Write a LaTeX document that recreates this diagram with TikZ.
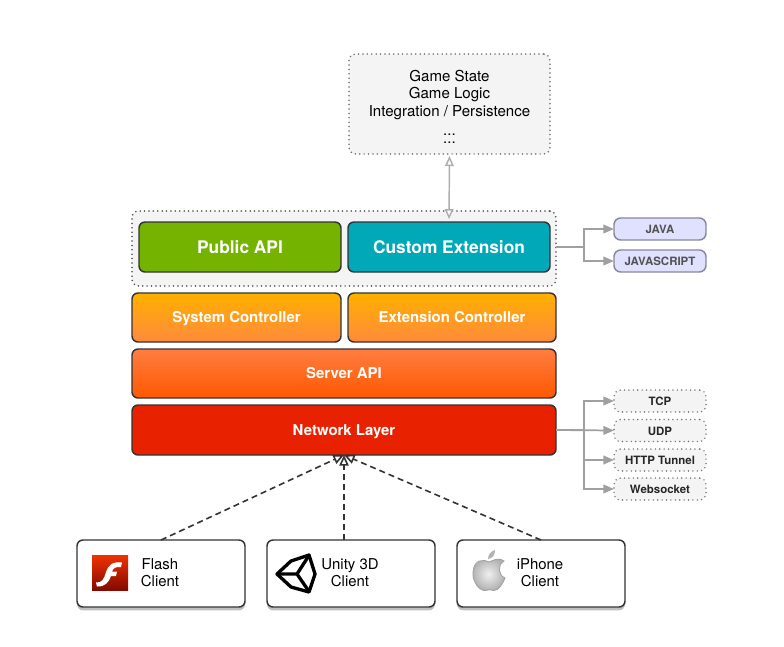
\documentclass[tikz,border=0pt]{standalone}
\usepackage{fontspec}
\setmainfont{TeX Gyre Heros}
\usetikzlibrary{arrows.meta,shadows,positioning}
\definecolor{edgedark}{HTML}{333333}
\definecolor{linkgray}{HTML}{A0A0A0}
\definecolor{panelgray}{HTML}{F4F4F4}
\definecolor{apigreen}{RGB}{116,179,0}
\definecolor{exteal}{RGB}{0,168,184}
\definecolor{ctrltop}{RGB}{255,176,0}
\definecolor{ctrlbot}{RGB}{255,138,60}
\definecolor{srvtop}{RGB}{255,125,65}
\definecolor{srvbot}{RGB}{255,88,0}
\definecolor{netred}{RGB}{232,34,0}
\definecolor{langfill}{RGB}{224,224,255}
\definecolor{langedge}{RGB}{136,136,156}
\tikzset{
  x=0.75pt,y=-0.75pt,
  boxsize/.style 2 args={minimum width=#1*0.75pt,minimum height=#2*0.75pt,inner sep=0pt,outer sep=0pt},
  layer/.style={draw=edgedark,line width=1.1pt,rounded corners=4.5pt,text=white,align=center,text height=7.8pt,text depth=0pt,font=\fontsize{11.2}{13}\selectfont\bfseries},
  toplayer/.style={layer,text height=9.4pt,font=\fontsize{13}{15}\selectfont\bfseries},
  dotbox/.style={draw=black!70,line width=1.3pt,dash pattern=on 0pt off 3.3pt,line cap=round,fill=panelgray,rounded corners=5pt,align=center},
  langbox/.style={draw=langedge,line width=1.1pt,fill=langfill,rounded corners=5pt,text=black!68,text height=.72em,text depth=0pt,font=\fontsize{8.6}{10}\selectfont\bfseries},
  protobox/.style={dotbox,draw=black!55,line width=1.2pt,text=black!85,text height=.72em,text depth=0pt,font=\fontsize{8.6}{10}\selectfont\bfseries},
  client/.style={draw=edgedark,line width=1.1pt,fill=white,rounded corners=4.5pt,align=center,
    drop shadow={shadow xshift=0pt,shadow yshift=-2.5pt,opacity=.5}},
  clientlabel/.style={font=\fontsize{11.2}{13}\selectfont,align=center},
  link/.style={draw=linkgray,line width=1.3pt},
  linkhead/.style={link,-{Triangle[length=8pt,width=6.5pt,fill=linkgray]}},
  twohead/.style={draw=linkgray!85,line width=1.1pt,{Triangle[open,length=7.5pt,width=6.5pt,fill=white]}-{Triangle[open,length=7.5pt,width=6.5pt,fill=white]}},
  uses/.style={draw=edgedark,line width=1.2pt,dash pattern=on 4.5pt off 3pt,-{Triangle[open,length=8pt,width=7pt,fill=white]}},
}
\begin{document}
\begin{tikzpicture}
\useasboundingbox (0,0) rectangle (784,646);
% top panel
\node[dotbox,draw=black!55,boxsize={201}{100}] (state) at (449.5,104) {};
\node[font=\fontsize{11.3}{13.2}\selectfont,align=center] (statelabel) at (449.5,106.5) {Game State\\Game Logic\\Integration / Persistence\\[1pt]...\\[-7.2pt]...};
% api frame
\node[dotbox,boxsize={424}{75}] (frame) at (344,248.5) {};
\node[toplayer,boxsize={202}{50},fill=apigreen] (public) at (240,247) {Public API};
\node[toplayer,boxsize={202}{50},fill=exteal] (custom) at (449,247) {Custom Extension};
% layers
\node[layer,boxsize={209}{49},top color=ctrltop,bottom color=ctrlbot] (system) at (236.5,317.5) {System Controller};
\node[layer,boxsize={208}{49},top color=ctrltop,bottom color=ctrlbot] (extension) at (452,317.5) {Extension Controller};
\node[layer,boxsize={424}{49},top color=srvtop,bottom color=srvbot] (server) at (344,373.5) {Server API};
\node[layer,boxsize={424}{50},fill=netred] (network) at (344,430) {Network Layer};
% right boxes
\node[langbox,boxsize={92}{22}] (java) at (660,229) {JAVA};
\node[langbox,boxsize={92}{22}] (js) at (660,261) {JAVASCRIPT};
\node[protobox,boxsize={92}{22}] (tcp) at (660,401) {TCP};
\node[protobox,boxsize={92}{22}] (udp) at (660,430.5) {UDP};
\node[protobox,boxsize={92}{22}] (http) at (660,460) {HTTP Tunnel};
\node[protobox,boxsize={92}{22}] (ws) at (660,489) {Websocket};
% clients
\node[client,boxsize={168}{67}] (flash) at (161,573.5) {};
\node[client,boxsize={168}{67}] (unity) at (351,573.5) {};
\node[client,boxsize={168}{67}] (iphone) at (541,573.5) {};
\node[clientlabel] (flashlabel) at (160,572.5) {Flash\\Client};
\node[clientlabel] (unitylabel) at (350,572.5) {Unity 3D\\Client};
\node[clientlabel] (iphonelabel) at (540,572.5) {iPhone\\Client};
% flash icon
\shade[top color={rgb,255:red,240;green,50;blue,0},bottom color={rgb,255:red,130;green,10;blue,0}] (92,555) rectangle (128,590);
\fill[white] (122,562.5) .. controls (112,561) and (108,566) .. (106,572)
  .. controls (104,579) and (102,583) .. (96,582.5) -- (97,586.5)
  .. controls (105,587) and (109,582) .. (111,576) -- (116,576) -- (117,571.5) -- (112,571.5)
  .. controls (113,568) and (116,566.5) .. (121,567) -- cycle;
% unity icon
\draw[black,line width=2.5pt,line join=round] (277,574) -- (291,561) -- (309,555) -- (315,574) -- (309,592) -- (291,587) -- cycle;
\draw[black,line width=2.5pt] (279,574) -- (297,574) -- (308,557) (297,574) -- (308,590);
% apple icon
\shade[inner color=gray!12,outer color=gray!62,draw=gray!75,line width=.6pt]
  (489,562) .. controls (484,559) and (474,559) .. (473,572)
  .. controls (472,582) and (480,591) .. (485,590.5)
  .. controls (488,589.5) and (491,589.5) .. (494,590.5)
  .. controls (499,590.5) and (503,583) .. (505,578)
  .. controls (498,575) and (497,565) .. (504,561)
  .. controls (499,557) and (494,560) .. (489,562) -- cycle;
\fill[gray!60] (488,559) .. controls (488,555) and (491,551) .. (495,550) .. controls (495,555) and (493,558) .. (488,559) -- cycle;
% connectors
\coordinate (atrunk) at (584,247);
\coordinate (ntrunk) at (584,430);
\draw[link] (frame.east |- custom.east) -- (atrunk);
\draw[linkhead] (atrunk) |- (java.west);
\draw[linkhead] (atrunk) |- (js.west);
\draw[linkhead] (network.east) -- (ntrunk) |- (tcp.west);
\draw[linkhead] (network.east) -- (udp.west);
\draw[linkhead] (ntrunk) |- (http.west);
\draw[linkhead] (ntrunk) |- (ws.west);
\draw[twohead,shorten >=2.2pt,shorten <=1.5pt] (state.south) -- (custom.north);
\draw[uses] (flash.north) -- (network.south);
\draw[uses] (unity.north -| network.south) -- (network.south);
\draw[uses] (iphone.north) -- (network.south);
\end{tikzpicture}
\end{document}
